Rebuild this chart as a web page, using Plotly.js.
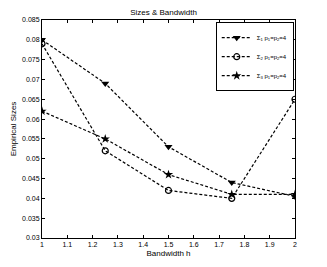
<!DOCTYPE html>
<html><head><meta charset="utf-8">
<script src="https://cdn.plot.ly/plotly-3.0.1.min.js"></script>
<style>html,body{margin:0;padding:0;background:#fff}#c{width:327px;height:267px}</style>
</head><body><div id="c"></div>
<script>
const bandwidth = [1, 1.25, 1.5, 1.75, 2];
const sigma1 = [0.080, 0.069, 0.053, 0.044, 0.0405];
const sigma2 = [0.079, 0.052, 0.042, 0.040, 0.065];
const sigma3 = [0.062, 0.055, 0.046, 0.041, 0.041];
const names = ['Σ<sub>1</sub> p<sub>1</sub>=p<sub>2</sub>=4', 'Σ<sub>2</sub> p<sub>1</sub>=p<sub>2</sub>=4', 'Σ<sub>3</sub> p<sub>1</sub>=p<sub>2</sub>=4'];
const xticks = [1, 1.1, 1.2, 1.3, 1.4, 1.5, 1.6, 1.7, 1.8, 1.9, 2];
const yticks = [0.03, 0.035, 0.04, 0.045, 0.05, 0.055, 0.06, 0.065, 0.07, 0.075, 0.08, 0.085];

const line = {color: '#000', width: 1.2, dash: '3px,2px'};
const traces = [
  {x: bandwidth, y: sigma1, name: names[0], mode: 'lines+markers', line: line,
   marker: {symbol: 'triangle-down', size: 7, color: '#000'}},
  {x: bandwidth, y: sigma2, name: names[1], mode: 'lines+markers', line: line,
   marker: {symbol: 'circle-open', size: 6, color: '#000', line: {width: 1.2, color: '#000'}}},
  {x: bandwidth, y: sigma3, name: names[2], mode: 'lines+markers', line: line,
   marker: {symbol: 'star', size: 7, color: '#000'}}
];
const axisCommon = {showgrid: false, zeroline: false, showline: true, mirror: 'ticks',
  linecolor: '#000', linewidth: 1, ticks: 'inside', ticklen: 3, tickcolor: '#000',
  tickfont: {family: 'Liberation Sans, Arial, sans-serif', size: 7, color: '#000'}};
const layout = {
  width: 327, height: 267,
  margin: {l: 42, r: 32, t: 20, b: 29},
  paper_bgcolor: '#fff', plot_bgcolor: '#fff',
  font: {family: 'Liberation Sans, Arial, sans-serif', color: '#000'},
  title: {text: 'Sizes & Bandwidth', font: {size: 8, color: '#000'}, x: 0.5, xanchor: 'center', y: 0.955, yanchor: 'middle'},
  xaxis: Object.assign({}, axisCommon, {range: [1, 2], tickvals: xticks, ticktext: xticks.map(String),
    title: {text: 'Bandwidth h', font: {size: 8, color: '#000'}, standoff: 2}}),
  yaxis: Object.assign({}, axisCommon, {range: [0.03, 0.085], tickvals: yticks, ticktext: yticks.map(v => String(+v.toFixed(3))),
    title: {text: 'Empirical Sizes', font: {size: 8, color: '#000'}, standoff: 4}}),
  showlegend: true,
  legend: {x: 0.995, y: 0.99, xanchor: 'right', yanchor: 'top', bgcolor: '#fff', bordercolor: '#000', borderwidth: 1,
    font: {size: 6, color: '#000'}, itemwidth: 30, tracegroupgap: 0}
};
Plotly.newPlot('c', traces, layout, {displayModeBar: false, staticPlot: true});
</script></body></html>
